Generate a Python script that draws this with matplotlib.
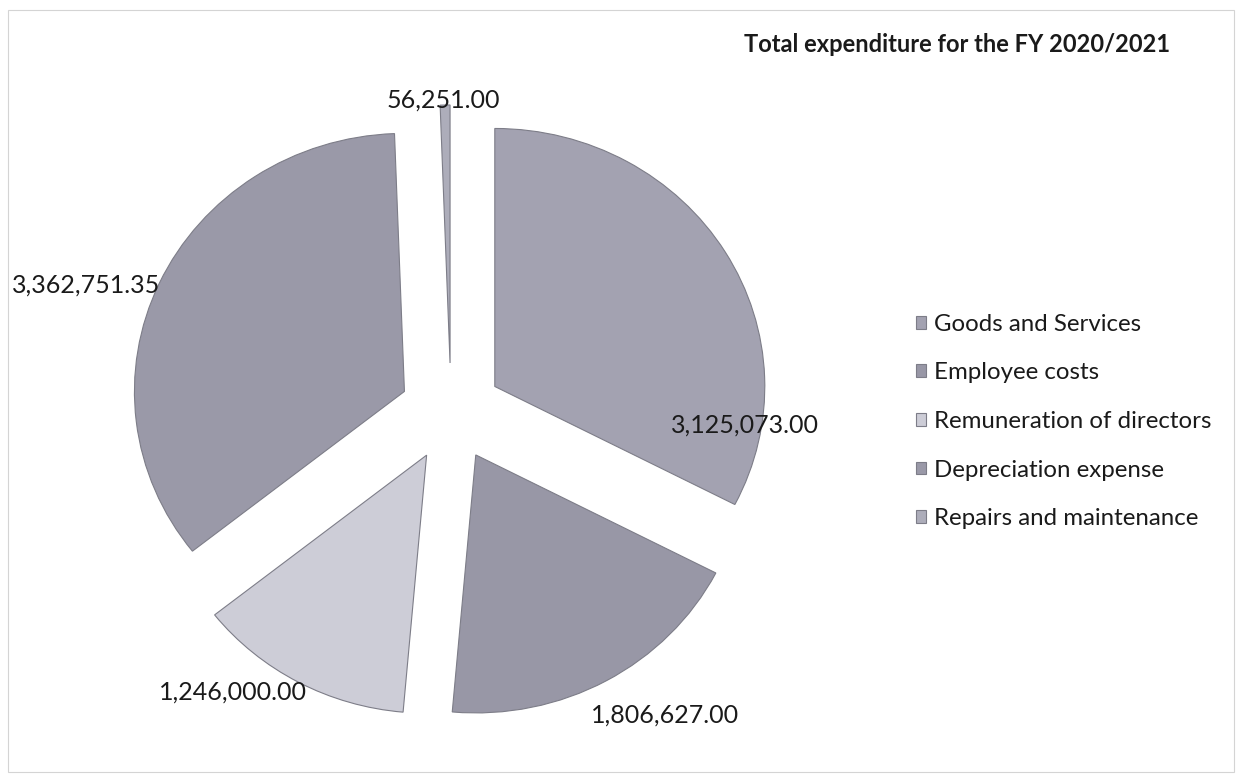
"""Exploded pie of the total expenditure for FY 2020/2021."""

import matplotlib.pyplot as plt

plt.rcParams["font.family"] = ["Lato", "DejaVu Sans"]

# Data
categories = [
    "Goods and Services",
    "Employee costs",
    "Remuneration of directors",
    "Depreciation expense",
    "Repairs and maintenance",
]
amounts = [3125073.00, 1806627.00, 1246000.00, 3362751.35, 56251.00]
value_labels = ["3,125,073.00", "1,806,627.00", "1,246,000.00", "3,362,751.35", "56,251.00"]
colors = ["#a3a2b1", "#9897a6", "#cdcdd7", "#9a99a8", "#adadba"]

W, H = 1240, 779
fig = plt.figure(figsize=(W / 100, H / 100), dpi=100)

# pie axes placed in pixels: centre (451, 412), radii 270 x 258 px
cx, cy, rx, ry, lim = 451, 412, 270, 258, 1.4
ax = fig.add_axes([(cx - lim * rx) / W, 1 - (cy + lim * ry) / H,
                   2 * lim * rx / W, 2 * lim * ry / H])
wedges, _ = ax.pie(
    amounts,
    colors=colors,
    startangle=90,
    counterclock=False,
    explode=[0.19] * len(amounts),
    wedgeprops=dict(edgecolor="#7d7d88", linewidth=0.8),
)
ax.set_xlim(-lim, lim)
ax.set_ylim(-lim, lim)
ax.set_aspect("auto")
ax.axis("off")

# data labels, placed like the Excel best-fit layout (pixel positions)
label_pos = [(745, 425), (665, 715), (233, 692), (86, 285), (443, 100)]
for txt, (px, py) in zip(value_labels, label_pos):
    fig.text(px / W, 1 - py / H, txt, ha="center", va="center",
             fontsize=18, color="#1a1a1a")

fig.text(957 / W, 1 - 45 / H, "Total expenditure for the FY 2020/2021",
         ha="center", va="center", fontsize=17, fontweight="bold", color="#1a1a1a")

leg = fig.legend(
    wedges, categories,
    loc="upper left", bbox_to_anchor=(894 / W, 1 - 292 / H),
    frameon=False, fontsize=17.3, handlelength=0.45, handleheight=0.45,
    handletextpad=0.3, labelspacing=1.15,
)
for t in leg.get_texts():
    t.set_color("#1a1a1a")

# thin frame of the chart area
fig.patches.append(plt.Rectangle((8 / W, 1 - 772 / H), 1226 / W, 762 / H,
                                 transform=fig.transFigure, fill=False,
                                 edgecolor="#d4d4d4", linewidth=0.8))

fig.savefig("out.png", dpi=100, facecolor="white")
